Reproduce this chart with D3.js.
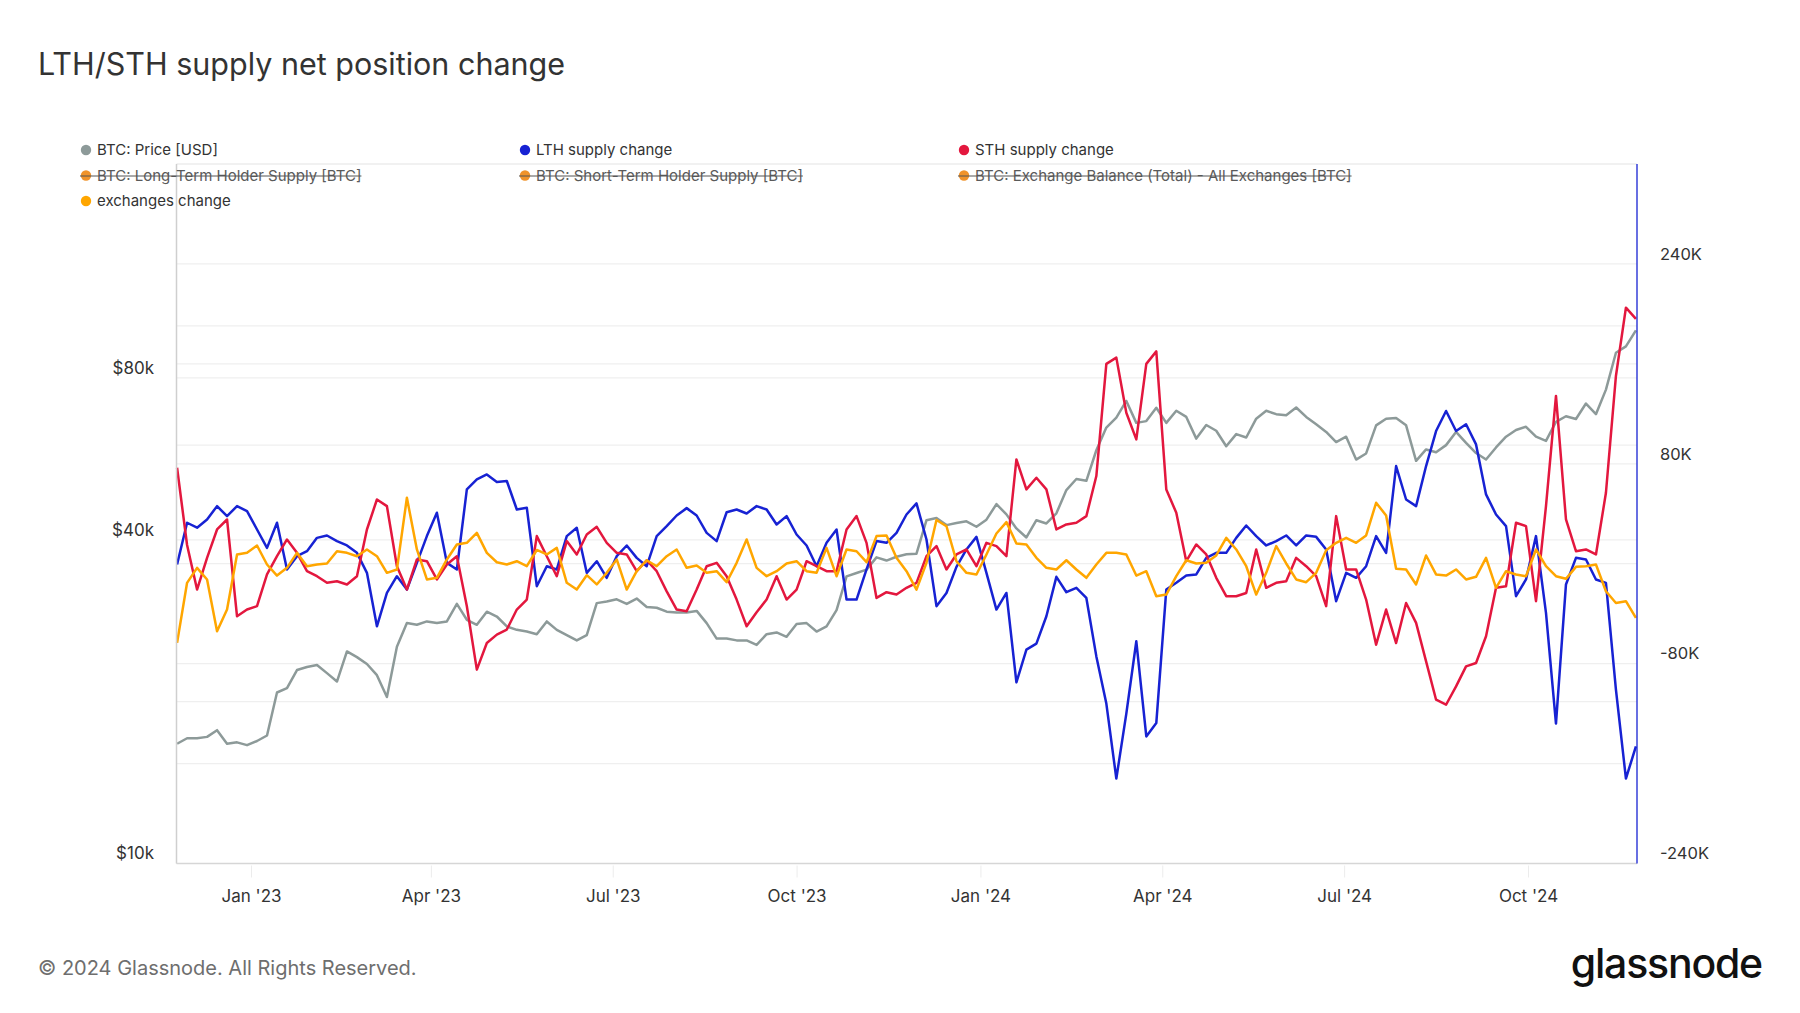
<!DOCTYPE html>
<html><head><meta charset="utf-8">
<script src="https://cdn.jsdelivr.net/npm/d3@7"></script>
<style>
html,body{margin:0;padding:0;background:#fff;}
svg{display:block;font-family:Inter,"Noto Sans",sans-serif;}
</style></head><body>
<svg id="chart" width="1800" height="1013"></svg>
<script>
// ---------- DATA ----------
const titleText = "LTH/STH supply net position change";
const startDate = "2022-11-25";   // first sample, one sample every 5 days
const stepDays = 5;

// BTC price, thousands of USD
const priceK = [16.7,17.1,17.1,17.2,17.7,16.7,16.8,16.6,16.9,17.3,20.8,21.2,22.9,23.2,23.4,22.6,21.8,24.8,24.2,23.5,22.4,20.4,25.3,28.0,27.8,28.2,28.0,28.2,30.4,28.4,27.8,29.4,28.8,27.6,27.2,27.0,26.7,
28.2,27.2,26.6,26.0,26.6,30.5,30.7,31.0,30.4,31.1,30.0,29.9,29.4,29.3,29.3,29.5,28.0,26.2,26.2,26.0,26.0,25.5,26.7,26.9,26.4,27.9,28.0,27.0,27.6,29.6,34.2,34.7,35.2,37.1,36.6,37.2,37.6,
37.7,43.5,43.9,42.6,43.0,43.3,42.3,43.6,46.6,44.6,42.0,40.4,43.5,42.9,44.8,49.5,51.9,51.5,58.7,64.7,67.5,72.5,66.0,66.5,70.4,66.0,69.5,67.7,61.7,65.4,63.8,59.7,62.9,62.0,67.2,69.5,
68.5,68.2,70.5,67.7,65.6,63.5,60.8,62.2,56.4,57.9,65.3,67.2,67.4,65.3,56.1,58.9,58.2,60.0,63.5,60.6,58.0,56.4,59.4,62.2,64.0,64.9,62.2,61.1,66.3,67.9,67.1,71.7,68.5,76.1,89.1,91.6,98.1];

// LTH supply change, thousands of BTC
const lthChangeK = [-0.6,32.8,28.8,35.4,46.1,38.1,46.1,42.1,27.4,12.7,32.8,-4.6,6.0,10.0,20.7,22.6,18.1,14.6,8.7,-7.3,-50.1,-23.4,-10.0,-20.7,0.7,22.1,40.8,0.7,-4.6,59.5,67.5,71.5,65.4,66.2,43.4,44.8,-18.0,
-2.0,-4.6,22.1,28.8,-7.3,2.0,-11.3,6.0,14.6,4.7,-2.0,22.1,30.1,38.6,44.5,38.6,24.7,18.1,41.2,43.4,40.2,46.1,43.4,31.4,38.1,23.4,14.6,-2.0,16.7,27.4,-28.7,-28.7,-4.6,18.1,16.7,24.7,39.4,
48.3,19.4,-34.0,-23.4,-2.5,11.4,21.5,-7.3,-36.7,-23.4,-95.0,-68.8,-64.0,-42.1,-10.5,-22.8,-19.3,-27.4,-74.2,-112.0,-172.0,-120.0,-62.1,-138.3,-127.6,-20.7,-15.3,-9.5,-8.6,4.7,8.7,8.7,20.7,30.6,22.1,14.6,
18.1,22.6,14.6,22.6,21.5,11.4,-30.0,-7.3,-11.3,-2.0,22.1,8.7,78.2,51.4,46.1,78.2,106.2,122.3,106.2,111.6,95.5,55.5,39.4,30.1,-26.0,-12.6,22.1,-39.4,-128.0,-16.6,4.7,3.4,-12.6,-15.3,-100.8,-172.0,-146.3];

// STH supply change, thousands of BTC
const sthChangeK = [76.8,15.0,-20.7,4.7,27.4,35.4,-42.1,-36.7,-34.0,-8.6,6.0,19.4,8.7,-6.0,-10.0,-15.3,-14.0,-16.6,-10.0,27.4,51.4,46.1,-2.0,-20.7,3.4,2.0,-12.6,-0.6,6.0,-34.0,-84.8,-63.5,-56.8,-52.7,-36.7,-28.7,22.1,
6.0,-10.0,18.1,7.4,23.4,29.5,16.7,8.7,7.4,-6.0,2.8,-6.0,-22.1,-36.7,-38.1,-20.7,-2.0,0.7,-10.0,-28.7,-50.1,-38.8,-28.7,-10.0,-28.7,-20.7,2.0,-2.0,-6.0,-6.0,27.4,38.1,16.7,-27.4,-22.8,-24.7,-19.3,
-15.3,6.0,14.1,-4.6,7.4,11.4,-2.0,16.7,14.1,6.0,83.5,59.5,68.8,59.5,27.4,31.4,32.8,38.1,70.2,160.0,165.0,120.9,99.5,160.0,170.0,59.5,40.8,2.0,15.4,7.4,-11.3,-26.0,-26.0,-23.4,11.4,-19.3,
-15.3,-14.0,4.7,-2.0,-10.0,-34.0,38.1,-4.6,-4.6,-28.7,-64.8,-36.7,-63.5,-31.4,-47.4,-78.2,-108.9,-112.9,-98.2,-82.2,-79.5,-58.1,-19.3,-18.0,32.8,30.1,-30.0,46.1,134.3,35.4,10.0,11.4,7.4,56.8,150.3,205.0,196.0];

// Exchanges change, thousands of BTC
const exchChangeK = [-63.4,-15.3,-3.3,-12.6,-54.1,-36.7,7.4,8.7,14.6,-0.6,-9.5,-3.3,8.7,-2.0,-0.6,0.2,10.0,8.7,6.0,11.4,6.0,-7.3,-4.6,52.8,11.4,-12.6,-11.3,3.4,15.4,16.7,24.7,8.7,1.2,-0.6,2.0,-2.0,11.0,
7.4,12.7,-15.3,-20.7,-9.2,-16.6,-7.3,3.4,-20.7,-6.0,2.8,-2.0,6.0,11.4,-3.3,-1.4,-7.3,-6.0,-14.8,0.7,19.4,-3.3,-10.0,-6.0,0.2,2.0,-6.0,-7.3,12.7,-10.0,11.4,10.0,1.2,22.1,22.6,4.7,-6.0,
-20.7,0.7,35.0,30.0,2.0,-7.3,-8.6,7.4,24.2,33.3,16.2,15.4,4.7,-3.3,-4.6,2.8,-4.6,-11.3,-0.6,8.7,8.7,7.4,-9.5,-6.0,-26.0,-24.7,-10.0,2.8,0.2,0.7,6.6,20.7,11.4,-2.0,-24.7,-7.3,
14.1,0.2,-12.6,-14.8,-7.3,10.8,16.7,20.7,16.7,22.6,48.8,38.6,-4.1,-4.6,-16.6,6.6,-8.6,-9.5,-4.6,-12.6,-10.5,4.7,-19.3,-6.0,-8.6,-10.0,11.4,-2.0,-10.0,-12.1,-2.5,-2.0,-0.6,-22.0,-31.4,-30.0,-43.4];

const xTickDates = ["2023-01-01","2023-04-01","2023-07-01","2023-10-01","2024-01-01","2024-04-01","2024-07-01","2024-10-01"];
const xTickLabels = ["Jan '23","Apr '23","Jul '23","Oct '23","Jan '24","Apr '24","Jul '24","Oct '24"];
const leftGridTicks = [10,20,40,60,80,100];
const leftLabelTicks = [10,40,80];
const leftLabelText = ["$10k","$40k","$80k"];
const rightGridTicks = [-240,-160,-80,0,80,160,240];
const rightLabelTicks = [-240,-80,80,240];
const rightLabelText = ["-240K","-80K","80K","240K"];

const legendNames = ["BTC: Price [USD]","LTH supply change","STH supply change",
  "BTC: Long-Term Holder Supply [BTC]","BTC: Short-Term Holder Supply [BTC]","BTC: Exchange Balance (Total) - All Exchanges [BTC]",
  "exchanges change"];
const legendColors = ["#8d9a99","#1722d3","#e3173e","#f0932b","#f0932b","#f0932b","#ffa600"];
const legendHidden = [false,false,false,true,true,true,false];

// ---------- LAYOUT ----------
const W = 1800, H = 1013;
const pL = 176.5, pR = 1637, pT = 164, pB = 863.5;
const svg = d3.select("#chart");
svg.append("rect").attr("width",W).attr("height",H).attr("fill","#fff");

const dates = priceK.map((_,i)=> d3.utcDay.offset(new Date(startDate+"T00:00:00Z"), i*stepDays));
const x = d3.scaleUtc().domain([new Date("2022-11-24T17:00:00Z"), new Date("2024-11-24T13:00:00Z")]).range([pL,pR]);
const yL = d3.scaleLog().domain([10,200]).range([pB,pT]);
const yR = d3.scaleLinear().domain([-240,320]).range([pB,pT]);

// title
svg.append("text").attr("x",38).attr("y",75).attr("font-size",30.5).attr("fill","#333").text(titleText);

// gridlines
const grid = svg.append("g");
grid.selectAll("line.gl").data(leftGridTicks).join("line")
  .attr("x1",pL).attr("x2",pR).attr("y1",d=>yL(d)).attr("y2",d=>yL(d))
  .attr("stroke","#efefef").attr("stroke-width",1.2);
grid.selectAll("line.gr").data(rightGridTicks).join("line")
  .attr("x1",pL).attr("x2",pR).attr("y1",d=>yR(d)).attr("y2",d=>yR(d))
  .attr("stroke","#efefef").attr("stroke-width",1.2);
svg.append("line").attr("x1",pL).attr("x2",pR).attr("y1",pT).attr("y2",pT).attr("stroke","#e3e3e3").attr("stroke-width",1);

// x axis
const xAxis = d3.axisBottom(x).tickValues(xTickDates.map(d=>new Date(d+"T00:00:00Z")))
  .tickFormat((d,i)=>xTickLabels[i]).tickSize(14).tickPadding(0);
const gx = svg.append("g").attr("transform",`translate(0,${pB})`).call(xAxis);
gx.select(".domain").remove();
gx.selectAll(".tick line").attr("stroke","#ececec").attr("y1",2);
gx.selectAll(".tick text").attr("y",26).attr("dy","0.71em").attr("font-size",17)
  .attr("font-family","Inter,'Noto Sans',sans-serif").attr("fill","#333");

// left axis labels
svg.append("g").selectAll("text").data(leftLabelTicks).join("text")
  .attr("x",154).attr("y",d=>yL(d)-10).attr("dy","0.35em").attr("text-anchor","end")
  .attr("font-size",17).attr("fill","#333").text((d,i)=>leftLabelText[i]);
// right axis labels
svg.append("g").selectAll("text").data(rightLabelTicks).join("text")
  .attr("x",1660).attr("y",d=>yR(d)-10).attr("dy","0.35em").attr("text-anchor","start")
  .attr("font-size",16.5).attr("fill","#333").text((d,i)=>rightLabelText[i]);

// series lines
const plot = svg.append("g");
function drawLine(vals, yScale, color){
  const line = d3.line().x((d,i)=>x(dates[i])).y(d=>yScale(d));
  plot.append("path").datum(vals).attr("d",line).attr("fill","none")
    .attr("stroke",color).attr("stroke-width",2.5).attr("stroke-linejoin","round");
}
drawLine(priceK, yL, "#8d9a99");
drawLine(lthChangeK, yR, "#1722d3");
drawLine(sthChangeK, yR, "#e3173e");
drawLine(exchChangeK, yR, "#ffa600");

// axis lines
svg.append("line").attr("x1",pL).attr("x2",pL).attr("y1",pT).attr("y2",pB).attr("stroke","#cfcfcf").attr("stroke-width",1.5);
svg.append("line").attr("x1",pL).attr("x2",pR).attr("y1",pB).attr("y2",pB).attr("stroke","#d6d6d6").attr("stroke-width",1.5);
svg.append("line").attr("x1",pR).attr("x2",pR).attr("y1",pT).attr("y2",pB).attr("stroke","#1722d3").attr("stroke-width",1.3);

// legend
const colX = [86,525,964], rowY = [150,175.5,201];
const lg = svg.append("g");
legendNames.forEach((name,i)=>{
  const cx = colX[i%3], cy = rowY[Math.floor(i/3)];
  const g = lg.append("g");
  g.append("circle").attr("cx",cx).attr("cy",cy).attr("r",5.2).attr("fill",legendColors[i]);
  const t = g.append("text").attr("x",cx+11).attr("y",cy).attr("dy","0.35em")
    .attr("font-size",15).attr("fill", legendHidden[i] ? "#5a5a5a" : "#333").text(name);
  if(legendHidden[i]){
    const w = t.node().getComputedTextLength();
    g.append("line").attr("x1",cx-6).attr("x2",cx+11+w).attr("y1",cy+0.5).attr("y2",cy+0.5)
      .attr("stroke","#555").attr("stroke-width",1);
  }
});

// footer
svg.append("text").attr("x",38).attr("y",968).attr("dy","0.35em").attr("font-size",20)
  .attr("fill","#6e6e6e").text("© 2024 Glassnode. All Rights Reserved.");
svg.append("text").attr("x",1762).attr("y",978).attr("text-anchor","end").attr("font-size",41)
  .attr("font-weight",500).attr("letter-spacing",-1.2).attr("fill","#111").text("glassnode");
</script>
</body></html>
